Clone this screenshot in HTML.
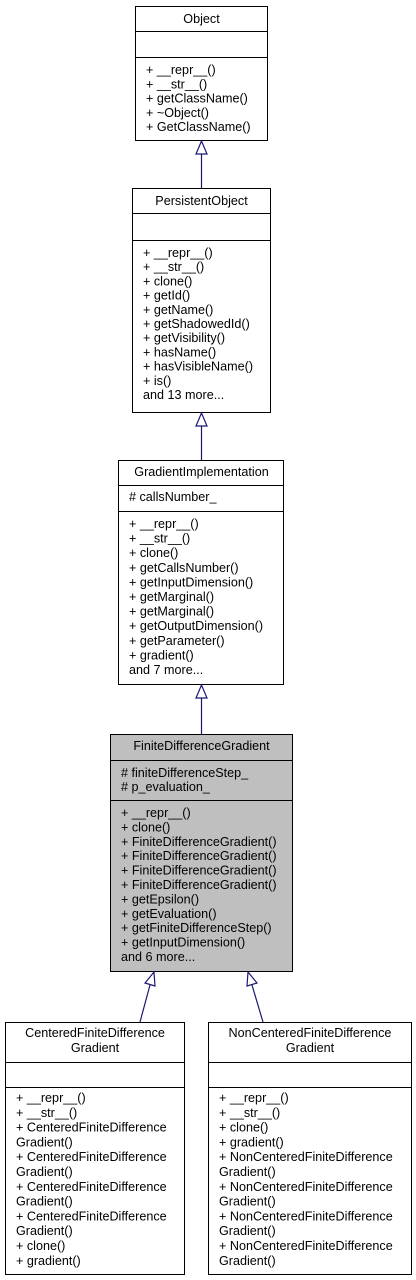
<!DOCTYPE html>
<html><head><meta charset="utf-8"><style>
html,body{margin:0;padding:0;background:#fff;}
svg{display:block;}
text{font-family:"Liberation Sans",sans-serif;font-size:12.6px;fill:#000;}
</style></head><body>
<svg width="416" height="1280" viewBox="0 0 416 1280" xmlns="http://www.w3.org/2000/svg">
<g fill="#fff" stroke="#000" stroke-width="1">
<rect x="135.5" y="6.5" width="132" height="134"/>
<line x1="135.5" y1="31.5" x2="267.5" y2="31.5"/><line x1="135.5" y1="57.5" x2="267.5" y2="57.5"/>
<rect x="132.5" y="188.5" width="138" height="224"/>
<line x1="132.5" y1="213.5" x2="270.5" y2="213.5"/><line x1="132.5" y1="240.5" x2="270.5" y2="240.5"/>
<rect x="118.5" y="460.5" width="165" height="224"/>
<line x1="118.5" y1="485.5" x2="283.5" y2="485.5"/><line x1="118.5" y1="511.5" x2="283.5" y2="511.5"/>
<rect x="110.5" y="734.5" width="182" height="237" fill="#bfbfbf"/>
<line x1="110.5" y1="760.5" x2="292.5" y2="760.5"/><line x1="110.5" y1="800.5" x2="292.5" y2="800.5"/>
<rect x="5.5" y="1022.5" width="179" height="252"/>
<line x1="5.5" y1="1062.5" x2="184.5" y2="1062.5"/><line x1="5.5" y1="1087.5" x2="184.5" y2="1087.5"/>
<rect x="208.5" y="1022.5" width="203" height="252"/>
<line x1="208.5" y1="1062.5" x2="411.5" y2="1062.5"/><line x1="208.5" y1="1087.5" x2="411.5" y2="1087.5"/>
</g>
<g stroke="#191970" stroke-width="1.2" fill="#fff">
<line x1="201.5" y1="154" x2="201.5" y2="188"/><polygon points="201.5,141 196,154 207,154"/>
<line x1="201.5" y1="426" x2="201.5" y2="460"/><polygon points="201.5,413 196,426 207,426"/>
<line x1="201.5" y1="698" x2="201.5" y2="734"/><polygon points="201.5,685 196,698 207,698"/>
<line x1="140" y1="1022" x2="150" y2="985"/><polygon points="154,972 145,983 155,986"/>
<line x1="263" y1="1022" x2="252" y2="985"/><polygon points="248,972 247,986 257,983"/>
</g>
<text x="201.5" y="23" text-anchor="middle">Object</text>
<g>
<text x="146" y="74">+ __repr__()</text><text x="146" y="88.3">+ __str__()</text><text x="146" y="102.6">+ getClassName()</text><text x="146" y="116.9">+ ~Object()</text><text x="146" y="131.2">+ GetClassName()</text>
</g>
<text x="201.5" y="205" text-anchor="middle">PersistentObject</text>
<g>
<text x="143" y="257">+ __repr__()</text><text x="143" y="271.2">+ __str__()</text><text x="143" y="285.4">+ clone()</text><text x="143" y="299.6">+ getId()</text><text x="143" y="313.8">+ getName()</text><text x="143" y="328">+ getShadowedId()</text><text x="143" y="342.2">+ getVisibility()</text><text x="143" y="356.4">+ hasName()</text><text x="143" y="370.6">+ hasVisibleName()</text><text x="143" y="384.8">+ is()</text><text x="143" y="399">and 13 more...</text>
</g>
<text x="201.5" y="476" text-anchor="middle">GradientImplementation</text>
<text x="129" y="501"># callsNumber_</text>
<g>
<text x="129" y="528">+ __repr__()</text><text x="129" y="542.6">+ __str__()</text><text x="129" y="557.2">+ clone()</text><text x="129" y="571.8">+ getCallsNumber()</text><text x="129" y="586.4">+ getInputDimension()</text><text x="129" y="601">+ getMarginal()</text><text x="129" y="615.6">+ getMarginal()</text><text x="129" y="630.2">+ getOutputDimension()</text><text x="129" y="644.8">+ getParameter()</text><text x="129" y="659.4">+ gradient()</text><text x="129" y="674">and 7 more...</text>
</g>
<text x="201.5" y="750" text-anchor="middle">FiniteDifferenceGradient</text>
<text x="121" y="777"># finiteDifferenceStep_</text><text x="121" y="791"># p_evaluation_</text>
<g>
<text x="121" y="817">+ __repr__()</text><text x="121" y="831.4">+ clone()</text><text x="121" y="845.8">+ FiniteDifferenceGradient()</text><text x="121" y="860.2">+ FiniteDifferenceGradient()</text><text x="121" y="874.6">+ FiniteDifferenceGradient()</text><text x="121" y="889">+ FiniteDifferenceGradient()</text><text x="121" y="903.4">+ getEpsilon()</text><text x="121" y="917.8">+ getEvaluation()</text><text x="121" y="932.2">+ getFiniteDifferenceStep()</text><text x="121" y="946.6">+ getInputDimension()</text><text x="121" y="961">and 6 more...</text>
</g>
<text x="95" y="1037" text-anchor="middle">CenteredFiniteDifference</text><text x="95" y="1052" text-anchor="middle">Gradient</text>
<g>
<text x="16" y="1102">+ __repr__()</text><text x="16" y="1116.8">+ __str__()</text><text x="16" y="1131.6">+ CenteredFiniteDifference</text><text x="16" y="1146.4">Gradient()</text><text x="16" y="1161.2">+ CenteredFiniteDifference</text><text x="16" y="1176">Gradient()</text><text x="16" y="1190.8">+ CenteredFiniteDifference</text><text x="16" y="1205.6">Gradient()</text><text x="16" y="1220.4">+ CenteredFiniteDifference</text><text x="16" y="1235.2">Gradient()</text><text x="16" y="1250">+ clone()</text><text x="16" y="1264.8">+ gradient()</text>
</g>
<text x="310" y="1037" text-anchor="middle">NonCenteredFiniteDifference</text><text x="310" y="1052" text-anchor="middle">Gradient</text>
<g>
<text x="219" y="1102">+ __repr__()</text><text x="219" y="1116.8">+ __str__()</text><text x="219" y="1131.6">+ clone()</text><text x="219" y="1146.4">+ gradient()</text><text x="219" y="1161.2">+ NonCenteredFiniteDifference</text><text x="219" y="1176">Gradient()</text><text x="219" y="1190.8">+ NonCenteredFiniteDifference</text><text x="219" y="1205.6">Gradient()</text><text x="219" y="1220.4">+ NonCenteredFiniteDifference</text><text x="219" y="1235.2">Gradient()</text><text x="219" y="1250">+ NonCenteredFiniteDifference</text><text x="219" y="1264.8">Gradient()</text>
</g>
</svg>
</body></html>
